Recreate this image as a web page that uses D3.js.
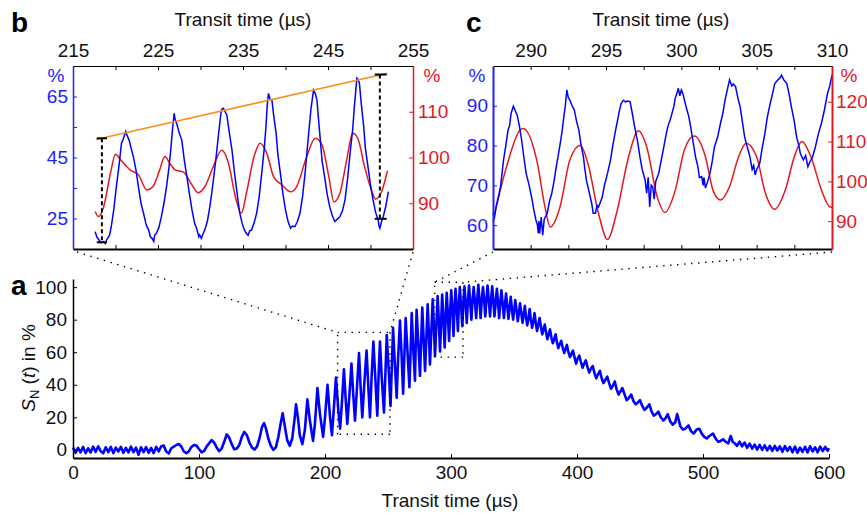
<!DOCTYPE html>
<html>
<head>
<meta charset="utf-8">
<script src="https://cdn.jsdelivr.net/npm/d3@7"></script>
<style>
body { margin: 0; background: #fff; }
svg { font-family: "Liberation Sans", Arial, Helvetica, sans-serif; }
</style>
</head>
<body>
<script>
// ---------- data ----------
// panel a: full transit signal, [time in us, S_N in %]
var seriesA = [
  [0,1.5],[2,-1.8],[4,1.2],[6,-1.5],[8,1.8],[10,-2],[12,1],[14,-1.6],[16,2],[18,-1.2],
  [20,2.2],[22,-0.8],[24,-2],[26,1.6],[28,-1.4],[30,1.8],[32,-2],[34,1.4],[36,-1],[38,1.8],
  [40,-1.8],[42,1.2],[44,-1.6],[46,2],[48,-1.4],[50,1.4],[52,-3],[54,1.6],[56,-1.4],[58,1.7],
  [60,-1.8],[62,1.2],[64,-2],[66,1.8],[68,-1],[70,2.2],[72,2.6],[74,-1],[76,-2.2],[78,1],
  [80,2],[82,3],[84,3.6],[86,2],[88,-1],[90,-2],[92,-0.8],[94,1.8],[96,3],[98,2.6],
  [100,0.5],[102,-1.5],[104,-0.8],[106,2],[108,4],[110,6],[112,4.5],[114,1.5],[116,-0.8],[118,0.8],
  [120,5],[122,9.5],[124,7.5],[126,3.5],[128,0.3],[130,0.8],[132,3],[134,8],[136,11],[138,9],
  [140,4.5],[142,1.5],[144,0.2],[146,2],[148,7],[150,14],[151.6,16.5],[153,13.5],[155,7],[157,2.5],
  [159,0],[161,1.5],[163,8],[165,17],[166.4,22.5],[168,15],[170,6],[172,2.5],[174,7],[176,20],
  [177,28],[178.5,20],[180,9],[182,3.5],[184,12],[186,31],[188,18],[190.5,5.5],[192,16],[194,38],
  [196,22],[198.5,8],[200,20],[202,40],[204,20],[205.5,9],[207,25],[208.7,44.5],[210.5,25],[212,13],
  [213.5,30],[215,49.5],[216.5,30],[217.7,16],[219.5,35],[221,53],[222.5,33],[223.8,18],[225.5,40],[227,59.5],
  [228.3,38],[229.6,20],[231.3,42],[233,61],[234.3,40],[235.7,20],[237,45],[238.4,66.5],[240,43],[241.5,21],
  [242.5,45],[243.6,66.5],[245,45],[246.8,23],[248,48],[249,70.5],[250.5,50],[252,27],[253,50],[254,75],
  [255.5,52],[256.9,32],[258,56],[259.5,79.5],[260.8,58],[262,34.5],[263,58],[264,81],[265.5,60],[267,38.5],
  [268,62],[268.8,84],[270,63],[271.4,42.5],[272,65],[272.7,86],[274,66],[275.4,45.5],[276.3,67],[277.2,87.5],
  [278.3,68],[279.4,48.5],[280.5,70],[281.5,89.5],[282.4,72],[283.3,52.5],[284.4,73],[285.5,92.5],[286.4,76],[287.3,57.5],
  [288.4,77],[289.4,94.5],[290.4,78],[291.3,60.5],[292.2,79],[293,95.5],[294,80],[295,63],[295.8,82],[296.6,96.5],
  [297.5,83],[298.5,67],[299.3,85],[300.2,98],[301.1,86],[302,70],[302.8,87],[303.6,99],[304.5,88],[305.5,73],
  [306.2,88],[307,100],[308,89],[309,76],[309.8,90],[310.7,100.5],[311.6,90],[312.5,78],[313.4,91],[314.3,101],
  [315.2,91],[316.2,80],[317,91],[318,100],[319,91],[320,81],[320.8,92],[321.7,101.5],[322.6,92],[323.5,81],
  [324.4,92],[325.4,100],[326.3,92],[327.2,82],[328.1,92],[329,101],[330,92],[331,82],[331.8,92],[332.7,100.5],
  [333.6,92],[334.5,82],[335.5,91],[336.4,99],[337.3,91],[338.2,81],[339.1,90],[340,98],[341,90],[342,81],
  [342.8,89],[343.7,96],[344.6,89],[345.6,80.5],[346.5,87],[347.4,94],[348.3,87],[349.3,80],[350.2,86],[351,92],
  [352,86],[353,79],[353.9,84],[354.8,90],[355.8,84],[356.8,78],[357.7,83],[358.6,88.5],[359.5,82],[360.5,76.5],
  [361.5,81],[362.4,86.5],[363.4,80],[364.4,75],[365.4,79],[366.3,84],[367.3,78],[368.3,73],[369.3,77],[370.3,81],
  [371.3,76],[372.4,71],[373.4,74],[374.4,77],[375.5,72],[376.5,68],[377.5,71],[378.6,74],[379.7,69],[380.8,65.5],
  [381.9,68],[383,71],[384.1,66],[385.2,62.5],[386.3,65],[387.5,67],[388.6,63],[389.8,59.5],[390.9,62],[392,64.5],
  [393.2,60],[394.4,57],[395.6,59],[396.8,61],[398,57],[399.3,53],[400.5,56],[401.8,58],[403.1,54],[404.4,50.5],
  [405.7,53],[407,55],[408.3,51],[409.7,47.5],[411.1,50],[412.5,51.5],[413.9,47],[415.3,44],[416.7,46.5],[418.2,48.5],
  [419.6,44],[421,41],[422.5,43],[424,45],[425.5,41],[427,37.5],[428.5,39.5],[430,42],[431.5,37],[433,34],
  [434.5,36],[436,38],[437.8,34],[439.5,30.5],[441.2,32],[443,34],[444.8,30],[446.5,28],[448.2,29],[450,30.5],
  [451.8,27],[453.5,24.5],[455.5,26],[457.5,28],[459.2,23.5],[461,21],[462.8,22],[464.5,23.5],[466.5,20],[468.5,18],
  [470.3,19.5],[472,22],[474,17.5],[476,15.5],[478,17],[479.5,22],[480.5,19],[482,14.5],[484,12.5],[486,13],
  [488.5,15],[490.5,11.5],[492.5,10],[495,12.5],[497,13],[499,10],[501,8],[503,7],[505,8.5],[508,10],
  [510,7],[512,5],[514,5.5],[516,6.5],[518,5],[520,4],[522,8.5],[523.5,5],[525,4.2],[527,2.5],
  [529,5],[531,2.2],[533,4.5],[535,1.2],[537,3.8],[539,0.8],[541,3.2],[543,0.2],[545,3],[547,0],
  [549,2.8],[551,-0.3],[553,2.4],[555,-0.6],[557,2.5],[559,-0.4],[561,2.2],[563,-1.2],[565,2.3],[567,-0.6],
  [569,1.9],[571,-1.5],[573,2],[575,-1.8],[577,1.4],[579,-1.2],[581,1.9],[583,-1.6],[585,2.2],[587,-1],
  [589,1.6],[591,-1.5],[593,2],[595,-0.8],[597,1.8],[599,-0.5],[600,1]
];

// zoomed windows marked in panel a: [t0, t1, y0, y1]
var zoomBoxB = [210, 251.6, 9.6, 72.2];
var zoomBoxC = [287, 309.5, 57, 103];

// panel b: measured signal (left axis, %) and model (right axis, %)
var bBlue = [
  [217.6,20.7],[217.8,19],[218,18.2],[218.3,17],[218.6,17.4],[218.8,16.8],[219,18.2],[219.3,19.5],[219.5,22.3],[219.8,28],
  [220.1,35.4],[220.4,42],[220.7,49.6],[220.9,51],[221.2,53.5],[221.4,52],[221.6,50.7],[221.8,48.5],[222.1,45.3],[222.4,41],
  [222.7,35.4],[223,30],[223.3,26.7],[223.6,23],[223.9,21.2],[224.1,19],[224.3,18.5],[224.5,17.5],[224.6,19.5],[224.8,20.1],
  [225.1,22],[225.4,25.6],[225.7,30],[226,35.4],[226.3,42],[226.5,47.5],[226.7,54],[226.9,59.5],[227.05,57],[227.2,56.2],
  [227.5,53],[227.8,50.7],[228.1,44],[228.4,38.7],[228.7,33],[229,27.8],[229.3,23.5],[229.6,21.2],[229.8,19],[229.9,19.6],
  [230.1,18.5],[230.3,20],[230.5,21.2],[230.8,24],[231.1,28.9],[231.4,35],[231.8,44.2],[232.1,52],[232.4,59.5],[232.55,61],
  [232.7,61.1],[232.9,60],[233.1,58.9],[233.4,53],[233.7,47.5],[234,40],[234.3,33.3],[234.6,27],[234.9,23.4],[235.2,21],
  [235.4,20.1],[235.6,19.5],[235.8,21],[236,21.2],[236.3,23.5],[236.6,26.7],[236.9,32],[237.2,39.8],[237.5,48],[237.7,55.1],
  [237.85,62],[238,66],[238.2,64],[238.4,63.9],[238.6,59],[238.9,52.9],[239.1,46],[239.4,39.8],[239.7,33],[240,27.8],
  [240.3,24],[240.6,21.8],[240.8,22.5],[241.1,22.3],[241.4,24],[241.7,26.7],[242,32],[242.3,39.8],[242.5,46],[242.8,55.1],
  [243,61],[243.3,67.1],[243.5,66],[243.7,63.9],[243.9,57],[244.1,50.7],[244.3,44],[244.6,38.7],[244.9,33],[245.2,28.9],
  [245.5,26],[245.8,24],[246.1,24.8],[246.4,25.6],[246.7,27.5],[247,31.1],[247.3,38],[247.6,46.4],[247.9,54],[248.1,61.6],
  [248.3,68],[248.4,71],[248.55,70.5],[248.7,69.3],[248.9,63],[249.2,55.1],[249.4,48],[249.7,42],[250,36],[250.3,31.1],
  [250.6,27],[250.9,24.5],[251,22.5],[251.1,21.8],[251.3,24],[251.5,25.6],[251.8,29],[252.1,33.8]
];
var bRed = [
  [217.6,88.2],[218,87.1],[218.6,89.2],[219.4,96.5],[220,100.7],[220.6,99.5],[221.7,97.3],[222.7,96.2],[223.7,92.9],[224.4,93.6],
  [225.2,97.3],[225.8,100.2],[226.4,98.7],[227,97.3],[228,96.8],[229,94],[229.7,92.3],[230.5,93.6],[231.5,98],[232.5,101.6],
  [233.3,98.7],[234.1,91.4],[234.8,87.8],[235.4,92.2],[236.3,100.2],[237,103.1],[237.8,100.9],[238.6,95.8],[239.6,94],[240.6,92.5],
  [241.3,93.6],[242.5,100.2],[243.5,104.2],[244.3,102.7],[245.1,95.8],[245.7,90.3],[246.4,92.2],[247.2,99.5],[247.9,105.3],[248.5,104.2],
  [249.3,98],[250.1,92.9],[250.6,90.9],[251.3,92.5],[252,97.1]
];
// peak envelope and the two contrast markers (left axis, %)
var bEnvelope = [[217.7,50.9],[252,72.6]];
var bMarkers = [
  {t: 218.4, top: 51.3, bottom: 17.2, t0: 217.8, t1: 219.0},
  {t: 251.1, top: 72.2, bottom: 24.9, t0: 250.5, t1: 251.9}
];

// panel c: measured signal (left axis, %) and model (right axis, %)
var cBlue = [
  [287.5,63],[287.6,62],[287.7,64.6],[287.85,67],[288,69.7],[288.1,73],[288.2,76.4],[288.35,80],[288.5,83.9],[288.6,85],
  [288.7,88.1],[288.85,89.9],[288.95,89],[289.1,87.7],[289.25,85],[289.4,81.4],[289.55,77],[289.7,73],[289.9,70],[290.1,66.3],
  [290.2,64],[290.35,61.3],[290.45,60],[290.5,58],[290.55,61],[290.6,57.9],[290.7,62],[290.8,57.5],[290.9,61.5],[291.1,63],
  [291.25,66],[291.4,68],[291.55,71],[291.7,74.7],[291.85,78],[292,81.4],[292.1,84],[292.2,87.2],[292.3,90],[292.4,94],
  [292.5,92],[292.6,91.4],[292.75,90],[292.9,88.9],[293.05,86],[293.2,83.9],[293.35,80],[293.5,77.2],[293.6,74],[293.7,71.3],
  [293.9,68],[294.05,65.5],[294.15,63],[294.3,63],[294.4,65],[294.5,64.5],[294.6,65.5],[294.75,67],[294.9,70.1],[295.1,73],
  [295.3,76.4],[295.45,80],[295.6,83.1],[295.75,86],[295.9,88.9],[296,90.5],[296.15,91.4],[296.3,91],[296.45,91.2],[296.6,91],
  [296.75,88],[296.9,84.7],[297.1,81],[297.25,77.2],[297.4,74],[297.6,71.3],[297.7,68],[297.8,72],[297.9,64.6],[298,70],
  [298.1,69.6],[298.2,66.5],[298.3,71],[298.5,73],[298.65,76],[298.8,78.9],[298.95,82],[299.1,84.7],[299.3,87],[299.5,89.8],
  [299.6,92],[299.7,93],[299.8,94.4],[299.9,92.5],[300,94],[300.1,93.1],[300.3,90],[300.5,87.2],[300.65,84],[300.8,80.5],
  [300.95,77],[301.1,74.7],[301.2,72],[301.35,72.2],[301.45,70],[301.5,72],[301.6,69.3],[301.75,71],[301.9,73],[302.05,76],
  [302.2,79.7],[302.4,82],[302.6,85.6],[302.75,88],[302.9,91.4],[303.05,94],[303.2,96.5],[303.35,95],[303.45,95.5],[303.6,94.8],
  [303.75,92],[303.9,89.8],[304.05,86],[304.2,82.2],[304.35,80],[304.55,77.2],[304.7,74],[304.8,75],[304.9,72.6],[305,74],
  [305.2,75.5],[305.35,79],[305.55,83.1],[305.7,87],[305.9,90.6],[306.05,93],[306.2,95.6],[306.4,96.5],[306.55,97],[306.65,97.7],
  [306.8,96.5],[307,95.6],[307.15,93],[307.3,89.8],[307.5,86],[307.65,82.2],[307.8,80],[307.9,78],[308.1,76.4],[308.25,77.5],
  [308.4,74.7],[308.55,76],[308.7,77],[308.9,79.7],[309.1,83],[309.3,85.6],[309.5,89],[309.7,93.1],[309.85,95],[310,97.7]
];
var cRed = [
  [287.5,89.9],[288.4,103.7],[289.3,112.9],[289.5,113.3],[290.4,105.4],[290.95,93.6],[291.3,88.5],[291.95,93.6],[292.6,105.4],[293.3,109.1],
  [293.8,104.5],[294.5,92],[295.1,85.4],[295.7,92],[296.5,106.2],[297.15,112.7],[297.7,108.7],[298.4,96.1],[298.9,92.2],[299.6,97.8],
  [300.2,107.9],[300.85,111.4],[301.6,106.2],[302.1,97.8],[302.6,95.3],[303.2,98.7],[303.8,106.2],[304.3,109.6],[305,106.2],[305.55,97.4],
  [306.2,93],[306.9,97.8],[307.5,106.2],[308,110],[308.6,106.2],[309.3,97.8],[309.85,93.6],[310,93.5]
];

// ticks
var aTicksX = [0, 100, 200, 300, 400, 500, 600];
var aTicksY = [0, 20, 40, 60, 80, 100];
var bTicksX = [215, 220, 225, 230, 235, 240, 245, 250, 255];
var bLabelsX = [215, 225, 235, 245, 255];
var bTicksYL = [25, 35, 45, 55, 65];
var bLabelsYL = [25, 45, 65];
var bTicksYR = [90, 100, 110];
var cTicksX = [290, 292.5, 295, 297.5, 300, 302.5, 305, 307.5, 310];
var cLabelsX = [290, 295, 300, 305, 310];
var cTicksYL = [60, 70, 80, 90];
var cTicksYR = [90, 100, 110, 120];

// ---------- drawing ----------
var BLUE = "#0000ff", RED = "#e3191f", ORANGE = "#f7901e", TXTBLUE = "#1e1eff";
var FS = 19;

var svg = d3.select("body").append("svg")
    .attr("width", 867)
    .attr("height", 513);

function styleAxis(g, color, width) {
    g.attr("font-size", FS).attr("font-family", null);
    g.select(".domain").attr("stroke", color).attr("stroke-width", width);
    g.selectAll(".tick line").attr("stroke", color).attr("stroke-width", 1);
    g.selectAll(".tick text").attr("fill", color === "#000" ? "#111" : color);
}

function onlyLabels(list) {
    return function (d) { return list.indexOf(d) >= 0 ? d : ""; };
}

// scales
var xA = d3.scaleLinear().domain([0, 600]).range([73, 829]);
var yA = d3.scaleLinear().domain([-5, 105]).range([458, 279]);

var xB = d3.scaleLinear().domain([215, 255]).range([73, 413]);
var yBL = d3.scaleLinear().domain([15, 75]).range([249, 66]);
var yBR = d3.scaleLinear().domain([80, 120]).range([249, 66]);

var xC = d3.scaleLinear().domain([287.5, 310]).range([493, 832]);
var yCL = d3.scaleLinear().domain([54, 100]).range([249, 66]);
var yCR = d3.scaleLinear().domain([83, 129]).range([249, 66]);

// ---- panel a ----
var lineA = d3.line()
    .x(function (d) { return xA(d[0]); })
    .y(function (d) { return yA(d[1]); });

svg.append("path")
    .datum(seriesA)
    .attr("d", lineA)
    .attr("fill", "none")
    .attr("stroke", BLUE)
    .attr("stroke-width", 2.6)
    .attr("stroke-linejoin", "round");

svg.append("g")
    .attr("transform", "translate(0," + yA.range()[0] + ")")
    .call(d3.axisBottom(xA).tickValues(aTicksX).tickSizeInner(-4).tickSizeOuter(0).tickPadding(8))
    .call(styleAxis, "#000", 2);

svg.append("g")
    .attr("transform", "translate(" + xA.range()[0] + ",0)")
    .call(d3.axisLeft(yA).tickValues(aTicksY).tickSizeInner(-4).tickSizeOuter(0).tickPadding(6))
    .call(styleAxis, "#000", 1.5);

svg.append("text")
    .attr("x", 450).attr("y", 507)
    .attr("text-anchor", "middle")
    .attr("font-size", FS).attr("fill", "#111")
    .text("Transit time (\u00b5s)");

var yLab = svg.append("text")
    .attr("transform", "translate(35,368) rotate(-90)")
    .attr("text-anchor", "middle")
    .attr("font-size", FS).attr("fill", "#111");
yLab.append("tspan").attr("font-style", "italic").text("S");
yLab.append("tspan").attr("font-size", 13).attr("dy", 4).text("N");
yLab.append("tspan").attr("dy", -4).text(" (");
yLab.append("tspan").attr("font-style", "italic").text("t");
yLab.append("tspan").text(") in %");

// zoom boxes and connectors
var dotted = { stroke: "#000", width: 1.4, dash: "1.4,5.6" };
function dottedLine(x1, y1, x2, y2) {
    svg.append("line")
        .attr("x1", x1).attr("y1", y1).attr("x2", x2).attr("y2", y2)
        .attr("stroke", dotted.stroke)
        .attr("stroke-width", dotted.width)
        .attr("stroke-dasharray", dotted.dash);
}
function zoomBox(box) {
    var x0 = xA(box[0]), x1 = xA(box[1]), y0 = yA(box[2]), y1 = yA(box[3]);
    dottedLine(x0, y1, x1, y1);
    dottedLine(x1, y1, x1, y0);
    dottedLine(x1, y0, x0, y0);
    dottedLine(x0, y0, x0, y1);
    return [x0, x1, y1];
}
var boxB = zoomBox(zoomBoxB);
var boxC = zoomBox(zoomBoxC);
dottedLine(xB.range()[0] + 4, yBL.range()[0] + 3, boxB[0], boxB[2]);
dottedLine(xB.range()[1], yBL.range()[0] + 3, boxB[1], boxB[2]);
dottedLine(xC.range()[0], yCL.range()[0] + 3, boxC[0], boxC[2]);
dottedLine(xC.range()[1], yCL.range()[0] + 3, boxC[1], boxC[2]);

// ---- panel b ----
var lineBL = d3.line()
    .x(function (d) { return xB(d[0]); })
    .y(function (d) { return yBL(d[1]); });
var lineBR = d3.line()
    .curve(d3.curveMonotoneX)
    .x(function (d) { return xB(d[0]); })
    .y(function (d) { return yBR(d[1]); });

svg.append("path").datum(bRed).attr("d", lineBR)
    .attr("fill", "none").attr("stroke", RED).attr("stroke-width", 1.5);
svg.append("path").datum(bBlue).attr("d", lineBL)
    .attr("fill", "none").attr("stroke", BLUE).attr("stroke-width", 1.5);
svg.append("path").datum(bEnvelope).attr("d", lineBL)
    .attr("fill", "none").attr("stroke", ORANGE).attr("stroke-width", 1.6);

bMarkers.forEach(function (m) {
    svg.append("line")
        .attr("x1", xB(m.t)).attr("x2", xB(m.t))
        .attr("y1", yBL(m.top)).attr("y2", yBL(m.bottom))
        .attr("stroke", "#000").attr("stroke-width", 2)
        .attr("stroke-dasharray", "4,3");
    [m.top, m.bottom].forEach(function (v) {
        svg.append("line")
            .attr("x1", xB(m.t0)).attr("x2", xB(m.t1))
            .attr("y1", yBL(v)).attr("y2", yBL(v))
            .attr("stroke", "#000").attr("stroke-width", 2);
    });
});

svg.append("g")
    .attr("transform", "translate(0," + yBL.range()[1] + ")")
    .call(d3.axisTop(xB).tickValues(bTicksX).tickFormat(onlyLabels(bLabelsX))
        .tickSizeInner(-4).tickSizeOuter(0).tickPadding(9))
    .call(styleAxis, "#000", 1.2);
svg.append("g")
    .attr("transform", "translate(0," + yBL.range()[0] + ")")
    .call(d3.axisBottom(xB).tickValues(bTicksX).tickFormat("")
        .tickSizeInner(-4).tickSizeOuter(0))
    .call(styleAxis, "#000", 2);
svg.append("g")
    .attr("transform", "translate(" + xB.range()[0] + ",0)")
    .call(d3.axisLeft(yBL).tickValues(bTicksYL).tickFormat(onlyLabels(bLabelsYL))
        .tickSizeInner(-4).tickSizeOuter(0).tickPadding(5))
    .call(styleAxis, TXTBLUE, 1.5);
svg.append("g")
    .attr("transform", "translate(" + xB.range()[1] + ",0)")
    .call(d3.axisRight(yBR).tickValues(bTicksYR)
        .tickSizeInner(-4).tickSizeOuter(0).tickPadding(5))
    .call(styleAxis, RED, 1.5);

// ---- panel c ----
var lineCL = d3.line()
    .x(function (d) { return xC(d[0]); })
    .y(function (d) { return yCL(d[1]); });
var lineCR = d3.line()
    .curve(d3.curveMonotoneX)
    .x(function (d) { return xC(d[0]); })
    .y(function (d) { return yCR(d[1]); });

svg.append("path").datum(cRed).attr("d", lineCR)
    .attr("fill", "none").attr("stroke", RED).attr("stroke-width", 1.5);
svg.append("path").datum(cBlue).attr("d", lineCL)
    .attr("fill", "none").attr("stroke", BLUE).attr("stroke-width", 1.5);

svg.append("g")
    .attr("transform", "translate(0," + yCL.range()[1] + ")")
    .call(d3.axisTop(xC).tickValues(cTicksX).tickFormat(onlyLabels(cLabelsX))
        .tickSizeInner(-4).tickSizeOuter(0).tickPadding(9))
    .call(styleAxis, "#000", 1.2);
svg.append("g")
    .attr("transform", "translate(0," + yCL.range()[0] + ")")
    .call(d3.axisBottom(xC).tickValues(cTicksX).tickFormat("")
        .tickSizeInner(-4).tickSizeOuter(0))
    .call(styleAxis, "#000", 2);
svg.append("g")
    .attr("transform", "translate(" + xC.range()[0] + ",0)")
    .call(d3.axisLeft(yCL).tickValues(cTicksYL)
        .tickSizeInner(-4).tickSizeOuter(0).tickPadding(5))
    .call(styleAxis, TXTBLUE, 2);
svg.append("g")
    .attr("transform", "translate(" + xC.range()[1] + ",0)")
    .call(d3.axisRight(yCR).tickValues(cTicksYR)
        .tickSizeInner(-4).tickSizeOuter(0).tickPadding(4))
    .call(styleAxis, RED, 2);

// titles, % units, panel letters
[[243, "b"], [661, "c"]].forEach(function (p) {
    svg.append("text")
        .attr("x", p[0]).attr("y", 26)
        .attr("text-anchor", "middle")
        .attr("font-size", FS).attr("fill", "#111")
        .text("Transit time (\u00b5s)");
});
[[56, TXTBLUE], [432, RED], [477, TXTBLUE], [849, RED]].forEach(function (p) {
    svg.append("text")
        .attr("x", p[0]).attr("y", 82)
        .attr("text-anchor", "middle")
        .attr("font-size", FS).attr("fill", p[1])
        .text("%");
});
[[11, 32, "b"], [466, 32, "c"], [11, 295, "a"]].forEach(function (p) {
    svg.append("text")
        .attr("x", p[0]).attr("y", p[1])
        .attr("font-size", 28).attr("font-weight", "bold").attr("fill", "#000")
        .text(p[2]);
});
</script>
</body>
</html>
